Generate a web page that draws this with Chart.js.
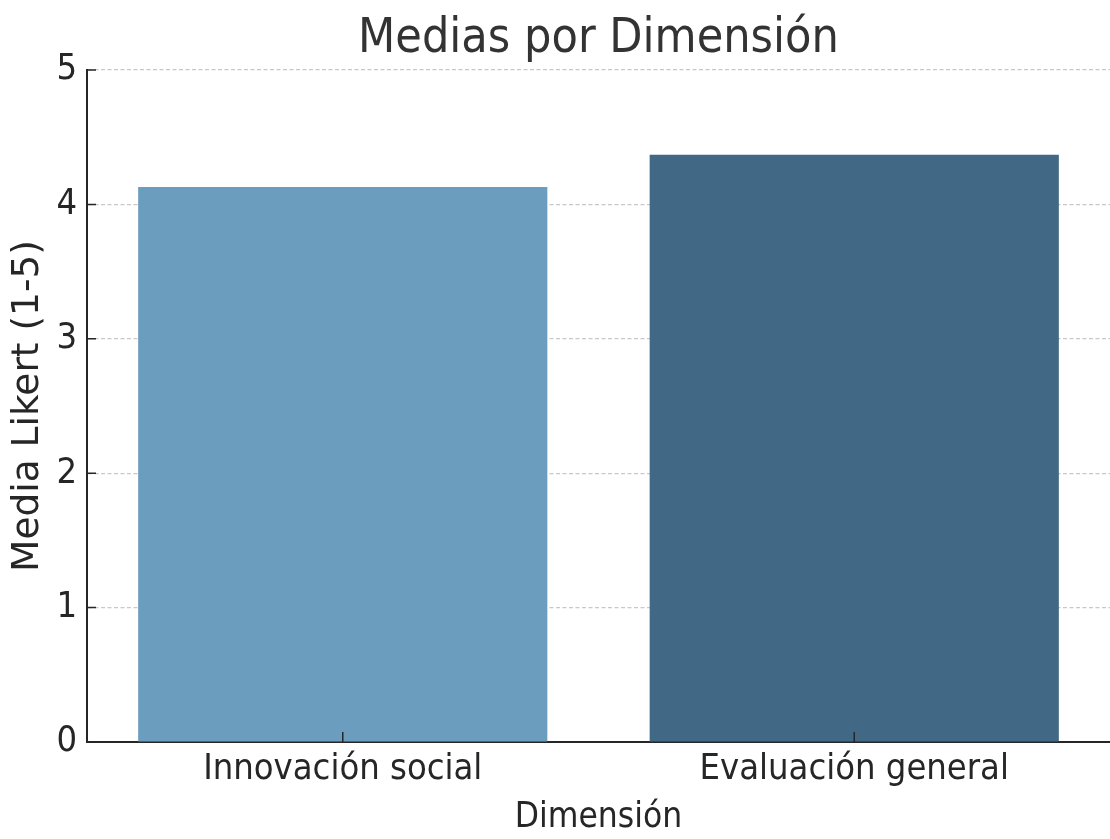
<!DOCTYPE html>
<html>
<head>
<meta charset="utf-8">
<script src="https://cdn.jsdelivr.net/npm/chart.js@4.4.1/dist/chart.umd.min.js"></script>
<style>
  html, body { margin: 0; padding: 0; background: #fff; }
  #wrap { width: 1110px; height: 839px; }
</style>
</head>
<body>
<div id="wrap"><canvas id="meansChart" width="1110" height="839"></canvas></div>
<script>
const chartTitle = "Medias por Dimensión";
const dimensions = ["Innovación social", "Evaluación general"];
const means = [4.13, 4.37];
const barColors = ["#6b9dbf", "#416985"];
const yTicks = [0, 1, 2, 3, 4, 5];

// title centred over the plot area (not the whole canvas)
const plotTitle = {
  id: "plotTitle",
  afterDraw(chart) {
    const ctx = chart.ctx;
    const area = chart.chartArea;
    ctx.save();
    ctx.fillStyle = "#333333";
    ctx.font = "48px 'DejaVu Sans Condensed'";
    ctx.textAlign = "center";
    ctx.textBaseline = "alphabetic";
    ctx.fillText(chartTitle, (area.left + area.right) / 2, 52);
    ctx.restore();
  }
};

// tick marks pointing into the plot, like the reference
const innerTicks = {
  id: "innerTicks",
  afterDatasetsDraw(chart) {
    const ctx = chart.ctx;
    const { x, y } = chart.scales;
    const area = chart.chartArea;
    ctx.save();
    ctx.strokeStyle = "#262626";
    ctx.lineWidth = 1.5;
    ctx.beginPath();
    x.ticks.forEach((t, i) => {
      const px = x.getPixelForTick(i);
      ctx.moveTo(px, area.bottom);
      ctx.lineTo(px, area.bottom - 10);
    });
    y.ticks.forEach((t, i) => {
      const py = y.getPixelForTick(i);
      ctx.moveTo(area.left, py);
      ctx.lineTo(area.left + 9, py);
    });
    ctx.stroke();
    ctx.restore();
  }
};

const ctx = document.getElementById("meansChart").getContext("2d");
new Chart(ctx, {
  type: "bar",
  data: {
    labels: dimensions,
    datasets: [{
      data: means,
      backgroundColor: barColors,
      barPercentage: 0.8,
      categoryPercentage: 1.0
    }]
  },
  options: {
    responsive: false,
    animation: false,
    layout: { padding: { top: 70, left: 0, right: 0, bottom: 0 } },
    plugins: {
      legend: { display: false },
      tooltip: { enabled: false },
      title: { display: false }
    },
    scales: {
      x: {
        offset: true,
        grid: { display: false, drawTicks: false },
        border: { display: true, color: "#262626", width: 2 },
        ticks: {
          color: "#262626",
          padding: 6,
          font: { family: "DejaVu Sans Condensed", size: 36 }
        },
        title: {
          display: true,
          text: "Dimensión",
          color: "#262626",
          padding: { top: 0, bottom: 0 },
          font: { family: "DejaVu Sans Condensed", size: 35 }
        },
        afterFit(scale) { scale.height = 97; }
      },
      y: {
        min: 0,
        max: 5,
        afterBuildTicks(scale) { scale.ticks = yTicks.map(v => ({ value: v })); },
        grid: {
          color: "#c8c8c8",
          lineWidth: 1.2,
          drawTicks: false
        },
        border: { display: true, color: "#262626", width: 2, dash: [4, 2.5] },
        ticks: {
          color: "#262626",
          padding: 10,
          font: { family: "DejaVu Sans Condensed", size: 36 }
        },
        title: {
          display: true,
          text: "Media Likert (1-5)",
          color: "#262626",
          padding: { top: 6, bottom: 0 },
          font: { family: "DejaVu Sans", size: 37.5 }
        },
        afterFit(scale) { scale.width = 87; }
      }
    }
  },
  plugins: [innerTicks, plotTitle]
});
</script>
</body>
</html>
